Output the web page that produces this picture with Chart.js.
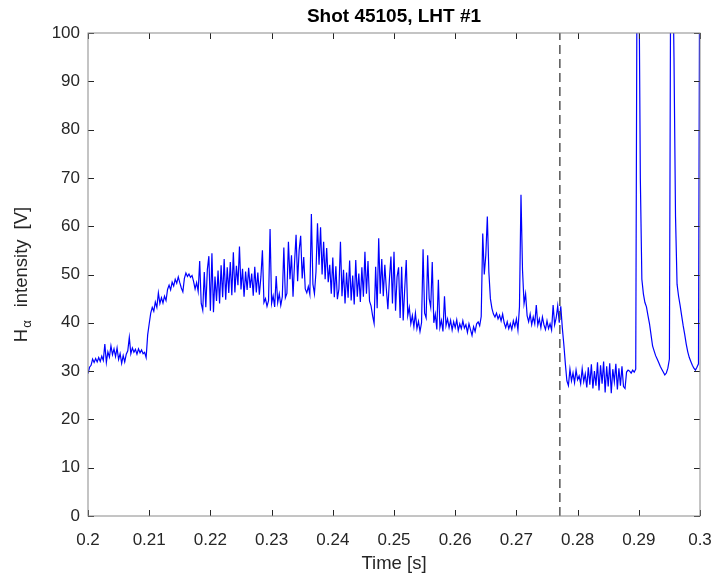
<!DOCTYPE html>
<html>
<head>
<meta charset="utf-8">
<title>Shot 45105, LHT #1</title>
<script src="https://cdn.jsdelivr.net/npm/chart.js@4.4.1/dist/chart.umd.min.js"></script>
<style>
  html, body { margin: 0; padding: 0; background: #fff; }
  canvas { display: block; }
</style>
</head>
<body>
<canvas id="shot" width="715" height="578"></canvas>
<script>
// H-alpha signal, one sample every 0.25 ms starting at t0
const t0 = 0.2;
const dt = 0.00025;
const halpha = [
  29.5, 30.8, 31.2, 32.5, 31.8, 32.6, 31.9, 32.8, 32.0, 33.1,
  32.2, 35.6, 31.8, 34.0, 32.9, 35.2, 33.4, 34.6, 33.0, 34.8,
  32.4, 33.6, 31.6, 33.2, 31.9, 33.5, 34.2, 37.0, 33.6, 34.8,
  33.9, 34.5, 33.5, 34.6, 33.8, 34.4, 33.6, 33.9, 32.8, 37.5,
  39.8, 42.0, 43.2, 42.4, 44.3, 43.2, 46.2, 44.0, 45.2, 44.1,
  45.5, 44.6, 46.9, 47.8, 46.8, 48.4, 47.6, 49.0, 48.2, 49.5,
  48.3, 47.2, 46.4, 49.2, 50.3, 49.6, 50.1, 49.4, 49.8, 48.6,
  47.0, 48.3, 46.5, 52.8, 44.0, 42.6, 50.5, 43.2, 51.0, 53.8,
  42.5, 54.4, 42.2, 49.6, 44.5, 50.8, 44.0, 51.9, 45.3, 53.2,
  44.8, 51.5, 46.2, 52.6, 45.7, 54.6, 46.3, 51.8, 47.8, 55.8,
  46.9, 51.2, 45.4, 50.6, 46.8, 51.4, 47.2, 50.2, 45.6, 51.6,
  46.3, 50.4, 45.8, 49.5, 55.0, 44.2, 45.0, 43.4, 44.6, 59.4,
  44.0, 45.6, 43.3, 49.7, 44.2, 46.0, 43.6, 45.4, 55.6, 45.2,
  46.1, 56.8, 49.0, 54.0, 45.4, 52.5, 58.2, 48.6, 55.0, 58.0,
  49.2, 53.6, 47.0, 46.2, 47.5, 45.9, 62.5, 48.0, 46.0, 50.5,
  60.6, 52.0, 59.8, 50.0, 56.8, 49.0, 55.5, 48.4, 52.0, 46.0,
  53.5, 45.3, 51.7, 44.9, 47.0, 56.8, 45.5, 51.0, 44.0, 50.4,
  45.2, 52.9, 44.6, 49.8, 43.8, 53.0, 45.4, 50.2, 44.3, 51.5,
  45.4, 54.7, 46.0, 52.8, 44.5, 43.5, 41.5, 39.9, 51.6, 43.0,
  57.5, 46.0, 53.2, 45.5, 52.0, 47.0, 42.8, 49.0, 53.7, 44.0,
  54.7, 42.5, 49.5, 51.5, 41.0, 51.6, 40.5, 47.0, 53.0, 41.5,
  43.2, 39.8, 41.5, 39.2, 42.0, 38.8, 40.3, 38.2, 40.0, 55.2,
  42.0, 41.0, 54.0, 45.0, 43.2, 52.6, 40.0, 41.8, 38.6, 48.9,
  39.0, 40.5, 38.2, 45.5, 39.4, 40.8, 39.0, 40.5, 38.5, 40.2,
  39.0, 40.6, 38.4, 39.8, 38.8, 40.4, 38.9, 39.6, 38.0, 39.8,
  38.6, 37.4, 39.2, 38.2, 39.8, 40.2, 39.4, 41.3, 58.5, 50.0,
  54.0, 62.0, 50.5, 45.0, 43.0, 41.8, 41.2, 42.0, 40.8, 41.6,
  40.4, 41.8, 40.0, 39.0, 40.2, 38.8, 39.8, 38.6, 40.4, 39.2,
  40.8, 38.5, 43.3, 66.5, 50.9, 44.0, 46.0, 41.5, 40.2, 41.8,
  39.6, 41.2, 39.8, 43.7, 39.5, 40.8, 39.0, 41.2, 39.6, 38.6,
  40.4, 38.8, 39.8, 38.5, 43.7, 39.6, 41.0, 43.5, 40.0, 43.4,
  39.0, 35.5, 31.5, 28.0, 27.0, 30.4, 28.0, 29.6, 27.6, 30.2,
  28.2, 29.0, 27.4, 30.5, 27.8, 29.4, 26.6, 30.8, 27.2, 31.4,
  26.4, 30.0, 27.0, 31.8, 26.0, 31.2, 27.4, 32.0, 25.6, 31.0,
  26.8, 31.6, 25.4, 30.4, 27.8, 31.5, 26.2, 30.6, 27.0, 31.0,
  26.8, 26.4, 29.8, 30.2, 30.0, 29.6, 30.2, 29.8, 30.4, 130,
  118, 70, 49.0, 46.0, 44.2, 43.3, 41.5, 39.8, 37.5, 35.2,
  34.2, 33.2, 32.5, 31.8, 31.0, 30.4, 29.8, 29.2, 29.6, 30.6,
  32.5, 130, 120, 95, 62, 48, 45.5, 43.6, 41.5, 39.4,
  37.6, 35.6, 34.0, 32.8, 32.0, 31.2, 30.6, 30.2, 30.8, 31.5,
  140
];
const times = halpha.map((_, i) => t0 + i * dt);

// time of the L-H transition, marked with a dashed line
const lhTime = 0.2771;
const xRange = [0.2, 0.3];
const yRange = [0, 100];
const xStep = 0.01;
const yStep = 10;

Chart.defaults.font.family = '"Liberation Sans", Arial, Helvetica, sans-serif';
Chart.defaults.color = '#262626';

// matlab style box with inward ticks and the H_alpha y label
const axesBox = {
  id: 'axesBox',
  afterDraw(chart) {
    const { ctx, chartArea: a, scales: { x, y } } = chart;
    const len = 6;
    ctx.save();
    ctx.lineWidth = 1;
    ctx.strokeStyle = '#262626';
    ctx.beginPath();
    x.ticks.forEach(t => {
      const px = Math.round(x.getPixelForValue(t.value)) + 0.5;
      ctx.moveTo(px, a.bottom); ctx.lineTo(px, a.bottom - len);
      ctx.moveTo(px, a.top); ctx.lineTo(px, a.top + len);
    });
    y.ticks.forEach(t => {
      const py = Math.round(y.getPixelForValue(t.value)) + 0.5;
      ctx.moveTo(a.left, py); ctx.lineTo(a.left + len, py);
      ctx.moveTo(a.right, py); ctx.lineTo(a.right - len, py);
    });
    ctx.stroke();
    ctx.strokeStyle = '#8a8a8a';
    ctx.strokeRect(a.left, a.top, a.right - a.left, a.bottom - a.top);

    // y label: H with subscript alpha
    const big = '18.5px "Liberation Sans", Arial, sans-serif';
    const small = '13px "Liberation Sans", Arial, sans-serif';
    const parts = [
      { s: 'H', f: big, dy: 0, gap: 1 },
      { s: 'α', f: small, dy: 5, gap: 13 },
      { s: 'intensity', f: big, dy: 0, gap: 10 },
      { s: '[V]', f: big, dy: 0, gap: 0 }
    ];
    let total = 0;
    parts.forEach(p => { ctx.font = p.f; p.w = ctx.measureText(p.s).width; total += p.w + p.gap; });
    ctx.translate(22, (a.top + a.bottom) / 2);
    ctx.rotate(-Math.PI / 2);
    ctx.fillStyle = '#262626';
    ctx.textBaseline = 'middle';
    ctx.textAlign = 'left';
    let cx = -total / 2;
    parts.forEach(p => {
      ctx.font = p.f;
      ctx.fillText(p.s, cx, p.dy);
      cx += p.w + p.gap;
    });
    ctx.restore();
  }
};

new Chart(document.getElementById('shot'), {
  type: 'line',
  data: {
    datasets: [
      {
        data: halpha.map((v, i) => ({ x: times[i], y: v })),
        borderColor: '#0000ff',
        borderWidth: 1.2,
        pointRadius: 0,
        tension: 0,
        order: 1
      },
      {
        data: [{ x: lhTime, y: yRange[0] }, { x: lhTime, y: yRange[1] }],
        borderColor: '#555555',
        borderWidth: 1.5,
        borderDash: [9, 5],
        pointRadius: 0,
        order: 0
      }
    ]
  },
  options: {
    responsive: false,
    animation: false,
    devicePixelRatio: 1,
    layout: { padding: { left: 0, right: 15, top: 0, bottom: 0 } },
    plugins: {
      legend: { display: false },
      tooltip: { enabled: false },
      title: {
        display: true,
        text: 'Shot 45105, LHT #1',
        fullSize: false,
        color: '#000',
        font: { size: 19, weight: 'bold' },
        padding: { top: 5, bottom: 5.2 }
      }
    },
    scales: {
      x: {
        type: 'linear',
        min: xRange[0],
        max: xRange[1],
        grid: { display: false, drawTicks: false },
        border: { display: false },
        ticks: {
          stepSize: xStep,
          padding: 14,
          maxRotation: 0,
          font: { size: 17 },
          callback: v => String(Number(v.toFixed(3)))
        },
        title: {
          display: true,
          text: 'Time [s]',
          font: { size: 18.5 },
          padding: { top: 0, bottom: 3 }
        },
        // fixed axis height; the label overhang at the ends is covered by the layout padding
        afterFit: s => { s.height = 62; s.paddingLeft = 0; s.paddingRight = 0; }
      },
      y: {
        min: yRange[0],
        max: yRange[1],
        grid: { display: false, drawTicks: false },
        border: { display: false },
        ticks: { stepSize: yStep, padding: 8, font: { size: 17 } },
        afterFit: s => { s.width = 88; }
      }
    }
  },
  plugins: [axesBox]
});
</script>
</body>
</html>
